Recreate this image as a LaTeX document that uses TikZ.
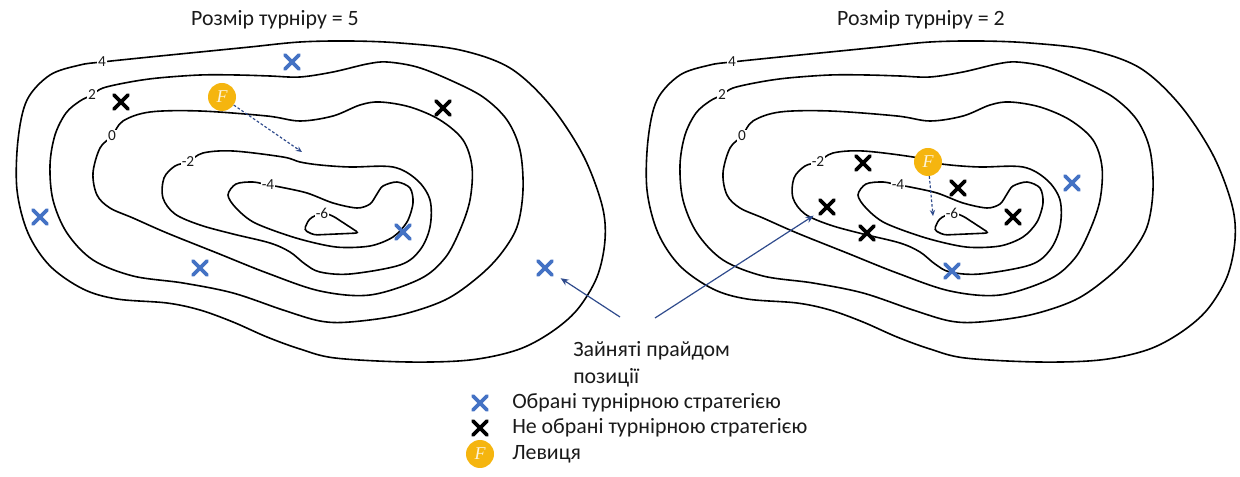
\documentclass[tikz,border=0pt]{standalone}
\usepackage{fontspec}
\setmainfont{Carlito}
\newfontfamily\fserif{Liberation Serif}
\usetikzlibrary{shapes.misc,arrows.meta}
\definecolor{xblue}{HTML}{4472C4}
\definecolor{fgold}{HTML}{F5B50F}
\definecolor{navy}{HTML}{2F4B8C}
\definecolor{txt}{HTML}{1A1A1A}
\tikzset{
  contour/.style={line width=1.2pt, black},
  clabel/.style={fill=white, inner sep=0.7pt, text=txt, font=\fontsize{11.5}{12}\selectfont},
  bluex/.style={cross out, draw=xblue, line width=2.9pt, line cap=round, minimum size=7.5pt, inner sep=0pt},
  blackx/.style={cross out, draw=black, line width=2.9pt, line cap=round, minimum size=7.5pt, inner sep=0pt},
  lion/.style={circle, fill=fgold, minimum size=21pt, inner sep=0pt, text=white!85!fgold, font=\fserif\itshape\fontsize{13.5}{13.5}\selectfont},
  dasharrow/.style={navy, line width=0.9pt, dash pattern=on 2pt off 1.5pt, -{Stealth[length=4.5pt,width=4pt]}},
  navyarrow/.style={navy, line width=0.9pt, -{Stealth[length=6pt,width=5pt]}},
  bigtext/.style={text=txt, font=\fontsize{16.4}{20.5}\selectfont, inner sep=0pt}
}
\newcommand\contourmap[1]{%
  % contour 4
  \draw[contour] plot[smooth cycle, tension=0.55] coordinates {
    (102,62) (150,57) (200,52) (250,47) (300,42) (350,41) (400,43) (460,50) (510,68) (550,105)
    (583,155) (602,205) (605,240) (597,277) (577,310) (550,333) (517,350) (470,360) (408,362)
    (335,358) (300,349) (267,337) (233,322) (200,310) (167,303) (117,299) (83,289) (50,266)
    (28,233) (17,190) (18,140) (27,100) (50,75) (80,65)};
  % contour 2
  \draw[contour] plot[smooth cycle, tension=0.55] coordinates {
    (92,95) (103,88) (130,82) (158,78) (200,75) (237,75) (270,76) (300,77) (333,72) (367,64)
    (387,62) (417,67) (450,80) (483,97) (507,120) (520,150) (523,190) (517,227) (500,255)
    (477,278) (445,300) (400,315) (350,322) (320,321) (283,310) (233,293) (183,283) (133,276)
    (93,260) (67,233) (53,200) (50,165) (55,135) (66,113) (80,101)};
  % contour 0
  \draw[contour] plot[smooth cycle, tension=0.55] coordinates {
    (112,136) (123,121) (150,112) (200,111) (267,116) (300,121) (333,116) (360,105) (380,102)
    (410,107) (440,120) (463,140) (472,167) (470,200) (460,230) (445,258) (420,279) (370,295)
    (320,291) (267,273) (217,253) (167,233) (133,218) (110,208) (97,195) (93,173) (100,148)};
  % contour -2
  \draw[contour] plot[smooth cycle, tension=0.55] coordinates {
    (188,162) (203,153) (233,151) (283,157) (300,162) (320,165) (350,167) (393,167) (417,180)
    (430,200) (430,227) (420,250) (400,265) (350,274) (320,272) (305,264) (290,252) (270,243)
    (233,234) (200,225) (175,214) (163,198) (164,178) (175,166)};
  % contour -4
  \draw[contour] plot[smooth cycle, tension=0.5] coordinates {
    (268,185) (280,187) (307,193) (333,203) (357,208) (370,204) (377,194) (383,186) (397,182)
    (410,188) (413,203) (407,222) (393,237) (370,246) (336,247) (296,238) (255,223) (236,208)
    (228,195) (236,184) (253,182)};
  % contour -6
  \draw[contour, rounded corners=2.5pt] (322,212) -- (333,216) -- (359,233) -- (314,235)
    -- (304,230) -- (309,219) -- cycle;
  \node[clabel] (#1c4) at (102,62) {4};
  \node[clabel] (#1c2) at (92,95) {2};
  \node[clabel] (#1c0) at (112,136) {0};
  \node[clabel] (#1cm2) at (188,162) {-2};
  \node[clabel] (#1cm4) at (268,185) {-4};
  \node[clabel] (#1cm6) at (322,213) {-6};
}
\begin{document}
\begin{tikzpicture}[x=0.75pt, y=-0.75pt]
  \useasboundingbox (0,0) rectangle (1240,477);
  % titles
  \node[bigtext] (t1) at (275,20) {Розмір турніру = 5};
  \node[bigtext] (t2) at (921,20) {Розмір турніру = 2};
  % left map
  \begin{scope}
    \contourmap{L}
  \end{scope}
  % right map
  \begin{scope}[shift={(630,0)}]
    \contourmap{R}
  \end{scope}
  % left panel markers
  \node[bluex] (lb1) at (292,62) {};
  \node[bluex] (lb2) at (40,217) {};
  \node[bluex] (lb3) at (200,268) {};
  \node[bluex] (lb4) at (403,232) {};
  \node[bluex] (lb5) at (545,268) {};
  \node[blackx] (lk1) at (121,102) {};
  \node[blackx] (lk2) at (443,108) {};
  \node[lion] (F1) at (222,97) {F};
  \coordinate (d1) at (302,152);
  \draw[dasharrow] (F1) -- (d1);
  % right panel markers
  \node[blackx] (rk1) at (863,163) {};
  \node[blackx] (rk2) at (827,207) {};
  \node[blackx] (rk3) at (867,233) {};
  \node[blackx] (rk4) at (958,188) {};
  \node[blackx] (rk5) at (1013,217) {};
  \node[bluex] (rb1) at (1072,183) {};
  \node[bluex] (rb2) at (952,271) {};
  \node[lion] (F2) at (928,162) {F};
  \coordinate (d2) at (933,216);
  \draw[dasharrow] (F2) -- (d2);
  % occupied positions label and arrows
  \node[bigtext, align=left, anchor=north west] (occ) at (573,341) {Зайняті прайдом\\позиції};
  \coordinate (a1) at (620,317);
  \coordinate (a2) at (655,318);
  \draw[navyarrow, shorten >=14pt] (a1) -- (lb5.center);
  \draw[navyarrow, shorten >=12pt] (a2) -- (rk2.center);
  % legend
  \node[bluex] (lg1) at (480,403) {};
  \node[bigtext, anchor=west] (lg1t) at (512,403) {Обрані турнірною стратегією};
  \node[blackx] (lg2) at (480,428) {};
  \node[bigtext, anchor=west] (lg2t) at (512,428) {Не обрані турнірною стратегією};
  \node[lion] (lg3) at (480,454) {F};
  \node[bigtext, anchor=west] (lg3t) at (512,454) {Левиця};
\end{tikzpicture}
\end{document}
